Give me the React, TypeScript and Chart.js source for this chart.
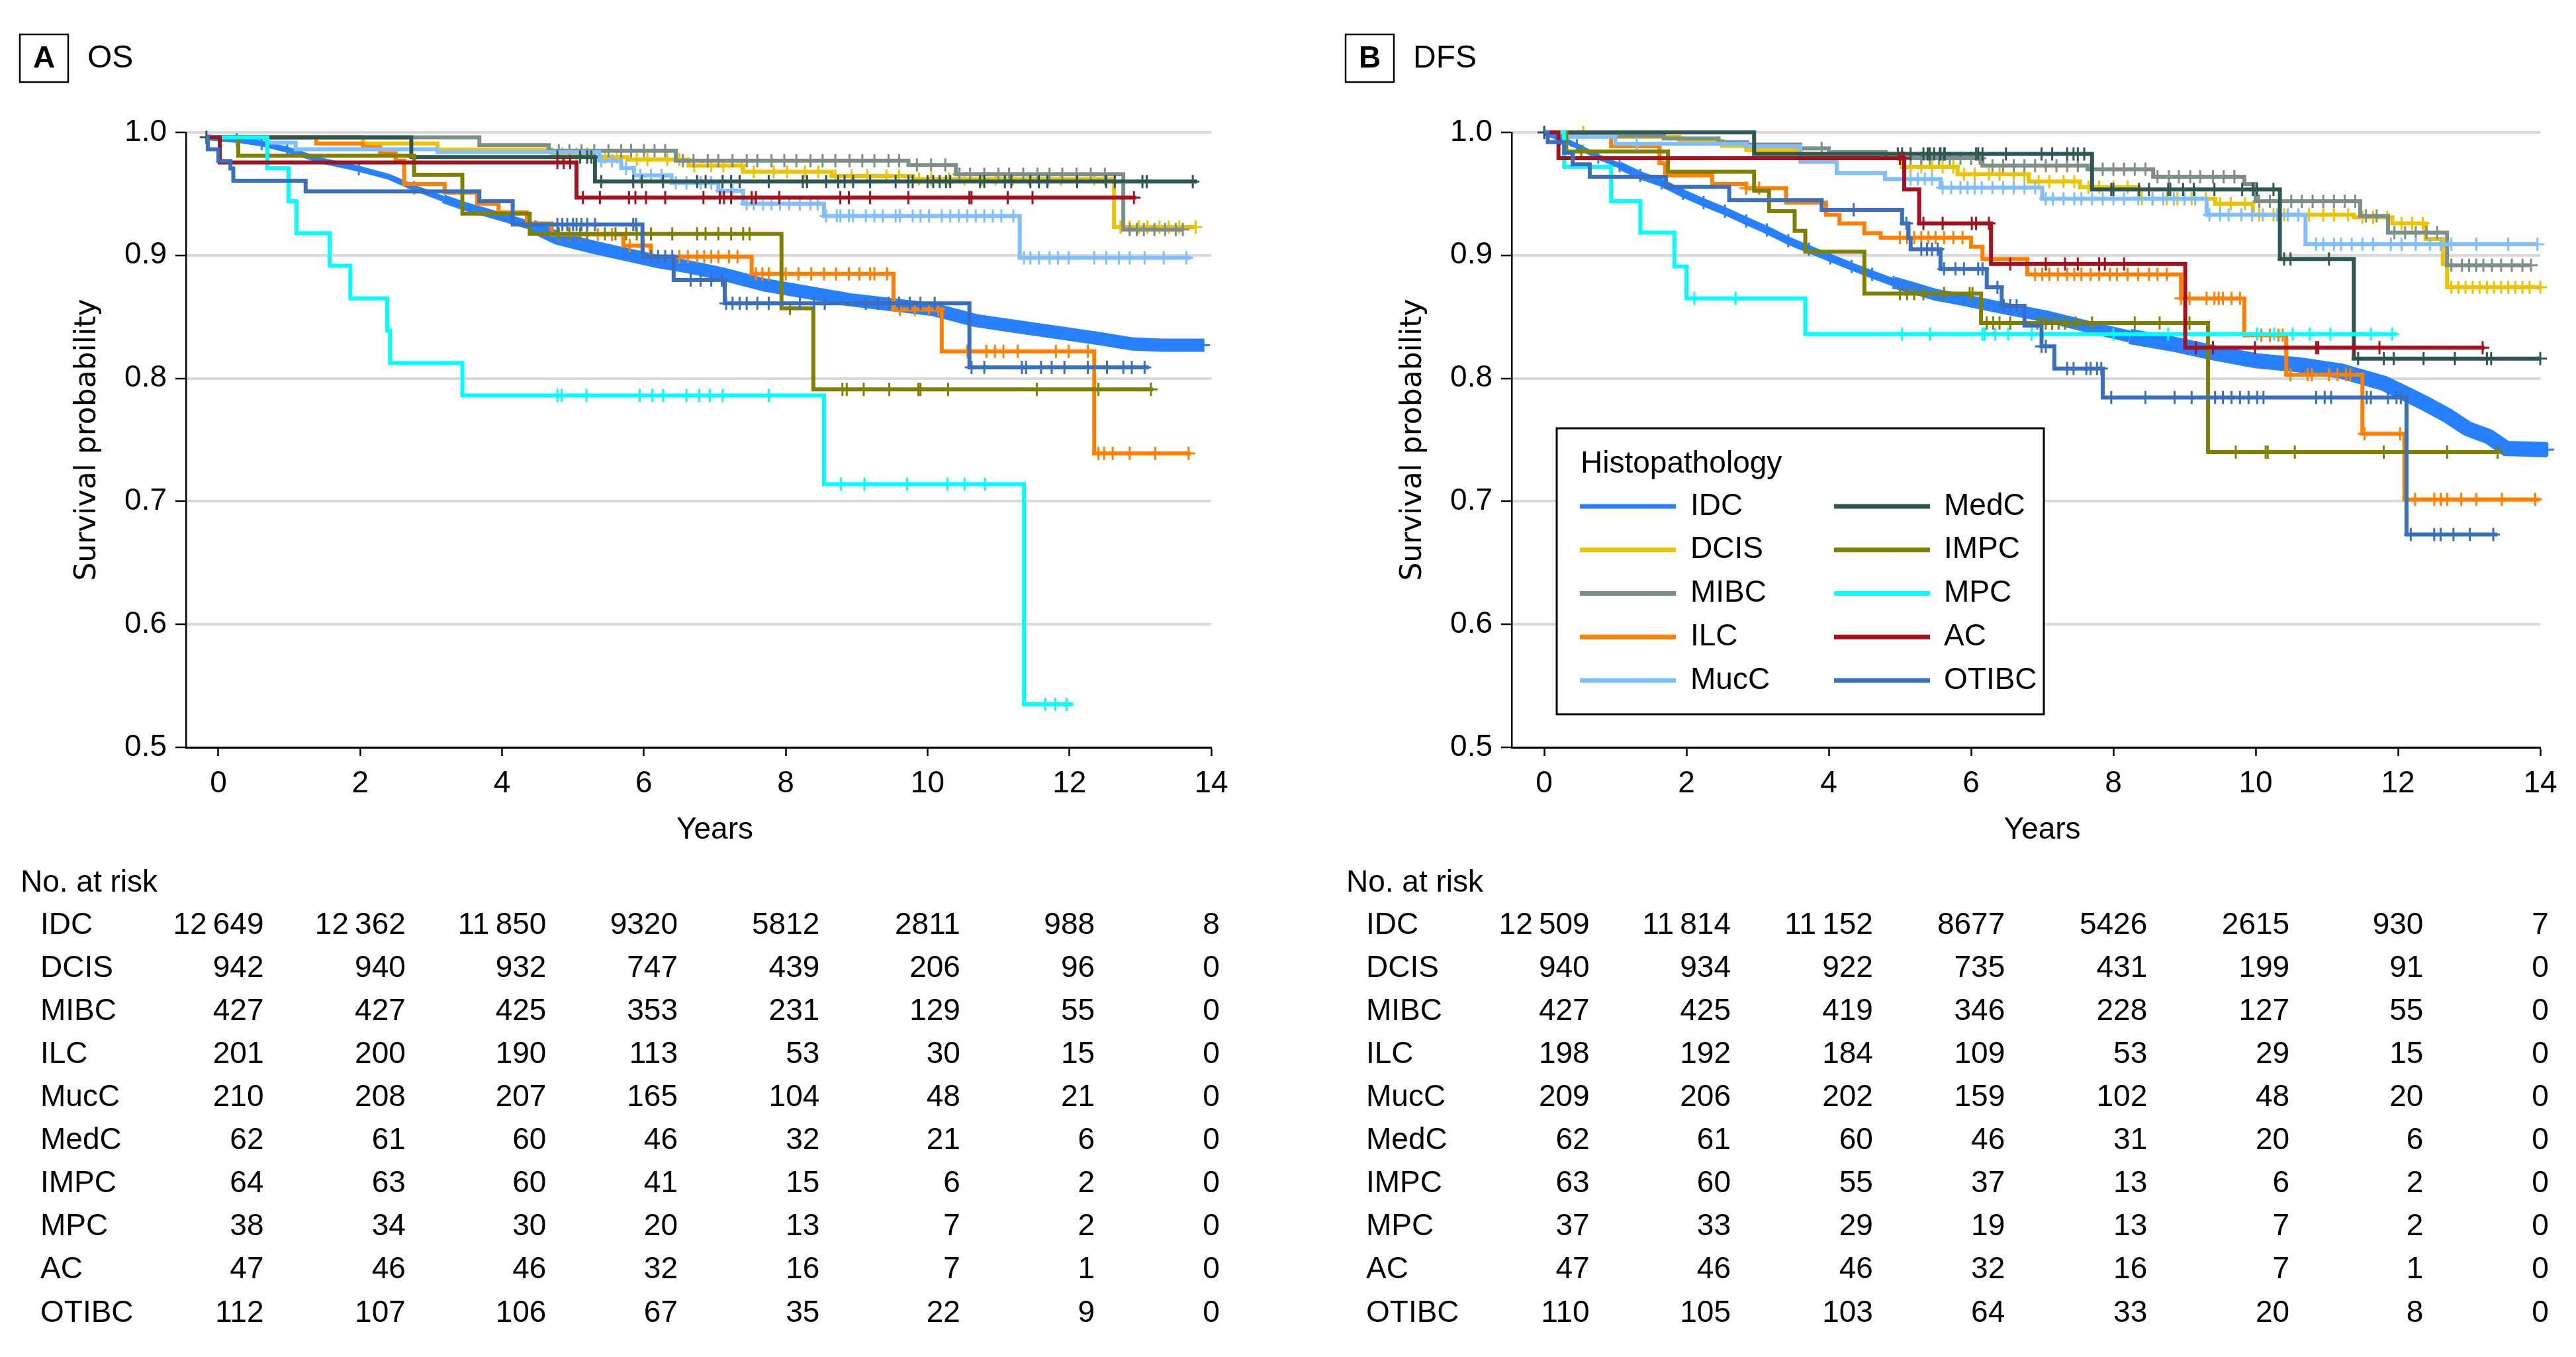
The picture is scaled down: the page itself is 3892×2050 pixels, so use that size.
import React, { useEffect, useRef } from 'react';
import { Chart, registerables } from 'chart.js';

Chart.register(...registerables);

// ---------------- data ----------------
const GROUPS = ['IDC', 'DCIS', 'MIBC', 'ILC', 'MucC', 'MedC', 'IMPC', 'MPC', 'AC', 'OTIBC'];
const COLORS = ['#2680ff', '#ecc300', '#7d8f89', '#ff8000', '#80bfff', '#2e5652', '#808000', '#00ffff', '#a3121f', '#3a6ebf'];
const X_TICKS = [0, 2, 4, 6, 8, 10, 12, 14];
const Y_TICKS = [0.5, 0.6, 0.7, 0.8, 0.9, 1.0];

// Panel A: overall survival, [years, survival probability]
const OS_IDC = [[-0.17, 0.996], [0.26, 0.994], [0.61, 0.991], [0.97, 0.986], [1.45, 0.977], [1.98, 0.9705], [2.4, 0.964], [2.76, 0.955], [3.17, 0.946], [3.47, 0.94], [3.77, 0.935], [4.07, 0.93], [4.42, 0.924], [4.78, 0.914], [5.26, 0.907], [5.73, 0.901], [6.2, 0.895], [6.6, 0.891], [7.1, 0.885], [7.7, 0.876], [8.3, 0.87], [8.89, 0.864], [9.49, 0.86], [10.08, 0.856], [10.68, 0.847], [11.27, 0.842], [11.87, 0.837], [12.46, 0.832], [12.88, 0.828], [13.3, 0.827], [13.89, 0.827]];
const OS_DCIS = [[-0.17, 0.996], [2.04, 0.991], [3.09, 0.986], [4.7, 0.9825], [5.3, 0.98], [5.77, 0.978], [6.63, 0.973], [7.4, 0.968], [8.65, 0.9645], [9.8, 0.962], [12.63, 0.923], [13.78, 0.923]];
const OS_MIBC = [[-0.17, 0.996], [3.68, 0.9897], [4.66, 0.985], [6.45, 0.977], [9.73, 0.9735], [10.4, 0.966], [12.76, 0.921], [13.6, 0.921]];
const OS_ILC = [[-0.17, 0.996], [1.38, 0.991], [2.04, 0.988], [2.28, 0.983], [2.5, 0.977], [2.62, 0.958], [3.19, 0.951], [3.65, 0.942], [3.95, 0.935], [4.35, 0.926], [4.7, 0.917], [5.71, 0.908], [6.1, 0.899], [7.52, 0.885], [9.52, 0.856], [10.2, 0.822], [12.35, 0.739], [13.71, 0.739]];
const OS_MUCC = [[-0.17, 0.996], [0.69, 0.9916], [1.09, 0.9863], [3.09, 0.984], [5.37, 0.977], [5.68, 0.971], [5.86, 0.965], [6.39, 0.959], [7.05, 0.9525], [7.4, 0.942], [8.54, 0.932], [11.3, 0.898], [13.71, 0.898]];
const OS_MEDC = [[-0.17, 0.996], [2.72, 0.98], [5.31, 0.96], [13.8, 0.96]];
const OS_IMPC = [[-0.17, 0.996], [0.28, 0.981], [2.76, 0.9655], [3.44, 0.934], [4.39, 0.9175], [7.94, 0.857], [8.39, 0.791], [13.18, 0.791]];
const OS_MPC = [[-0.17, 0.996], [0.69, 0.971], [0.99, 0.944], [1.1, 0.918], [1.57, 0.8915], [1.86, 0.865], [2.38, 0.839], [2.42, 0.8124], [3.44, 0.786], [8.54, 0.714], [11.36, 0.535], [12.05, 0.535]];
const OS_AC = [[-0.17, 0.996], [0.02, 0.9755], [5.05, 0.947], [12.94, 0.947]];
const OS_OTIBC = [[-0.17, 0.996], [-0.15, 0.9863], [0.0, 0.9767], [0.17, 0.9707], [0.21, 0.9607], [1.23, 0.952], [3.68, 0.944], [4.15, 0.925], [5.98, 0.899], [6.42, 0.88], [7.14, 0.861], [10.59, 0.809], [13.12, 0.809]];

// Panel A censoring times (years)
const OS_IDC_C = [0.26, 0.61, 0.97, 1.98, 2.76, 13.89];
const OS_DCIS_C = [4.85, 5.05, 5.2, 5.45, 5.62, 5.9, 6.05, 6.33, 6.5, 6.71, 6.95, 7.12, 7.38, 7.55, 7.83, 8.02, 8.27, 8.46, 8.7, 8.93, 9.15, 9.42, 9.6, 9.88, 10.05, 10.3, 10.52, 10.77, 10.96, 11.2, 11.43, 11.7, 11.88, 12.1, 12.35, 12.5, 12.72, 12.85, 12.98, 13.1, 13.27, 13.4, 13.55, 13.78];
const OS_MIBC_C = [4.8, 4.95, 5.12, 5.3, 5.5, 5.68, 5.82, 6.0, 6.15, 6.3, 6.55, 6.7, 6.9, 7.05, 7.25, 7.45, 7.6, 7.8, 7.98, 8.15, 8.35, 8.52, 8.7, 8.9, 9.08, 9.25, 9.45, 9.6, 9.85, 10.05, 10.25, 10.45, 10.6, 10.8, 11.0, 11.15, 11.35, 11.55, 11.72, 11.9, 12.1, 12.3, 12.5, 12.85, 12.95, 13.05, 13.2, 13.35, 13.5, 13.6];
const OS_ILC_C = [4.8, 4.95, 5.1, 5.35, 5.55, 5.8, 6.0, 6.5, 6.62, 6.75, 6.85, 6.95, 7.05, 7.2, 7.32, 7.58, 7.67, 7.76, 8.0, 8.18, 8.36, 8.54, 8.71, 8.89, 9.04, 9.19, 9.25, 9.43, 9.61, 9.82, 10.02, 10.15, 10.56, 10.83, 10.95, 11.07, 11.27, 11.81, 11.99, 12.26, 12.41, 12.49, 12.61, 12.85, 13.21, 13.68];
const OS_MUCC_C = [5.4, 5.55, 5.75, 5.95, 6.1, 6.25, 6.45, 6.6, 6.8, 6.95, 7.1, 7.25, 7.45, 7.55, 7.68, 7.8, 7.92, 8.05, 8.2, 8.35, 8.45, 8.57, 8.72, 8.77, 8.89, 8.95, 9.13, 9.25, 9.37, 9.55, 9.61, 9.79, 9.9, 10.02, 10.2, 10.32, 10.44, 10.56, 10.68, 10.8, 10.92, 11.04, 11.21, 11.36, 11.45, 11.57, 11.72, 11.84, 11.99, 12.35, 12.52, 12.7, 12.85, 13.06, 13.33, 13.65];
const OS_MEDC_C = [-0.17, 4.78, 5.1, 5.2, 5.26, 5.4, 5.85, 5.97, 6.27, 6.75, 6.87, 7.11, 7.23, 7.35, 7.76, 8.24, 8.3, 8.57, 8.74, 8.83, 8.95, 9.19, 9.55, 9.73, 9.79, 10.0, 10.08, 10.17, 10.26, 10.32, 10.74, 10.8, 11.09, 11.18, 11.45, 11.57, 11.69, 12.11, 12.52, 12.64, 13.03, 13.09, 13.74];
const OS_IMPC_C = [4.8, 4.95, 5.1, 5.2, 5.45, 5.6, 5.75, 5.9, 6.1, 6.4, 6.75, 6.87, 7.05, 7.23, 7.4, 7.49, 8.06, 8.8, 8.86, 9.1, 9.46, 9.87, 9.9, 10.29, 11.54, 12.41, 13.15];
const OS_MPC_C = [4.78, 4.84, 5.19, 5.94, 6.12, 6.27, 6.6, 6.78, 6.93, 7.11, 7.76, 8.78, 9.11, 9.71, 10.28, 10.52, 10.81, 11.66, 11.8, 11.96];
const OS_AC_C = [4.78, 4.87, 4.96, 5.14, 5.38, 5.79, 5.88, 6.03, 6.3, 6.84, 7.07, 7.13, 7.23, 7.52, 7.58, 7.91, 8.77, 8.89, 9.19, 9.73, 10.59, 10.62, 11.13, 11.48, 12.91];
const OS_OTIBC_C = [4.78, 4.85, 4.92, 5.0, 5.05, 5.12, 5.2, 5.31, 5.85, 5.89, 6.1, 6.2, 6.3, 6.4, 6.66, 6.8, 6.95, 7.1, 7.16, 7.25, 7.35, 7.45, 7.6, 7.76, 8.2, 8.4, 8.55, 9.13, 9.3, 9.45, 9.6, 9.75, 9.9, 10.1, 10.62, 10.8, 11.33, 11.39, 11.6, 11.75, 11.93, 12.26, 12.53, 12.76, 12.88, 13.06];

// Panel B: disease-free survival
const DFS_IDC = [[0, 1.0], [0.23, 0.995], [0.46, 0.989], [0.76, 0.98], [1.06, 0.973], [1.35, 0.965], [1.65, 0.959], [1.95, 0.9505], [2.24, 0.943], [2.54, 0.936], [2.84, 0.928], [3.13, 0.9206], [3.43, 0.912], [3.72, 0.905], [4.02, 0.898], [4.32, 0.891], [4.61, 0.8845], [4.91, 0.878], [5.21, 0.873], [5.5, 0.868], [5.87, 0.864], [6.46, 0.857], [7.05, 0.8505], [7.64, 0.842], [8.23, 0.834], [8.83, 0.828], [9.42, 0.8206], [10.0, 0.8144], [10.61, 0.811], [11.2, 0.806], [11.8, 0.796], [12.09, 0.788], [12.39, 0.7794], [12.69, 0.77], [12.98, 0.759], [13.28, 0.7526], [13.52, 0.743], [14.1, 0.742]];
const DFS_DCIS = [[0, 1.0], [0.9, 0.9963], [1.9, 0.993], [2.5, 0.989], [2.84, 0.9856], [3.6, 0.9825], [5.03, 0.972], [5.81, 0.966], [6.81, 0.96], [7.53, 0.9555], [8.36, 0.946], [9.43, 0.942], [9.96, 0.933], [11.38, 0.931], [11.92, 0.926], [12.39, 0.9134], [12.63, 0.893], [12.69, 0.874], [14.02, 0.874]];
const DFS_MIBC = [[0, 1.0], [0.25, 0.997], [1.68, 0.995], [2.45, 0.992], [2.85, 0.99], [3.6, 0.987], [4.0, 0.984], [4.8, 0.979], [6.16, 0.973], [7.64, 0.97], [8.56, 0.964], [9.84, 0.958], [10.0, 0.944], [11.47, 0.932], [11.86, 0.9185], [12.69, 0.892], [13.87, 0.892]];
const DFS_ILC = [[0, 1.0], [0.94, 0.9887], [1.62, 0.975], [1.7, 0.965], [2.36, 0.958], [2.84, 0.9546], [3.4, 0.943], [3.96, 0.933], [4.15, 0.926], [4.5, 0.918], [4.73, 0.9144], [6.0, 0.907], [6.16, 0.897], [6.79, 0.8845], [8.95, 0.865], [9.84, 0.835], [10.43, 0.803], [11.5, 0.755], [12.09, 0.7016], [13.99, 0.7016]];
const DFS_MUCC = [[0, 1.0], [0.28, 0.9963], [1.0, 0.9907], [2.84, 0.9887], [3.6, 0.976], [4.11, 0.967], [4.79, 0.962], [5.57, 0.955], [7.0, 0.946], [9.31, 0.933], [10.7, 0.909], [13.96, 0.909]];
const DFS_MEDC = [[0, 1.0], [2.95, 0.9825], [7.7, 0.9536], [10.34, 0.897], [11.38, 0.816], [13.99, 0.816]];
const DFS_IMPC = [[0, 1.0], [0.31, 0.9845], [1.74, 0.968], [2.95, 0.9526], [3.16, 0.936], [3.52, 0.92], [3.67, 0.903], [4.5, 0.869], [6.14, 0.845], [9.33, 0.74], [13.43, 0.74]];
const DFS_MPC = [[0, 1.0], [0.28, 0.972], [0.94, 0.944], [1.35, 0.9185], [1.83, 0.891], [2.0, 0.865], [3.67, 0.836], [11.98, 0.836]];
const DFS_AC = [[0, 1.0], [0.2, 0.979], [5.06, 0.9536], [5.27, 0.926], [6.28, 0.893], [9.01, 0.825], [13.22, 0.825]];
const DFS_OTIBC = [[0, 1.0], [0.05, 0.992], [0.28, 0.9835], [0.4, 0.974], [0.64, 0.964], [1.71, 0.9557], [2.6, 0.945], [3.9, 0.937], [5.03, 0.926], [5.12, 0.914], [5.15, 0.905], [5.57, 0.889], [6.22, 0.874], [6.43, 0.859], [6.75, 0.843], [6.99, 0.826], [7.17, 0.808], [7.85, 0.7845], [12.12, 0.673], [13.4, 0.673]];

// Panel B censoring times (years)
const DFS_IDC_C = [0.23, 0.46, 0.76, 1.06, 1.35, 1.65, 1.95, 2.24, 2.54, 2.84, 3.13, 3.43, 3.72, 4.02, 4.32, 4.61, 4.91, 14.1];
const DFS_DCIS_C = [0.55, 3.55, 5.15, 5.3, 5.45, 5.6, 5.75, 5.9, 6.05, 6.25, 6.4, 6.6, 6.75, 6.95, 7.1, 7.3, 7.45, 7.65, 7.8, 8.0, 8.2, 8.4, 8.55, 8.75, 8.9, 9.1, 9.3, 9.5, 9.65, 9.85, 10.05, 10.25, 10.4, 10.6, 10.75, 10.95, 11.1, 11.3, 11.5, 11.65, 11.85, 12.05, 12.2, 12.35, 12.75, 12.85, 12.95, 13.05, 13.15, 13.25, 13.35, 13.45, 13.55, 13.65, 13.75, 13.85, 14.0];
const DFS_MIBC_C = [3.9, 5.0, 5.15, 5.3, 5.42, 5.55, 5.7, 5.85, 6.0, 6.12, 6.3, 6.45, 6.6, 6.75, 6.9, 7.05, 7.2, 7.35, 7.5, 7.7, 7.85, 8.0, 8.15, 8.3, 8.45, 8.62, 8.78, 8.92, 9.08, 9.22, 9.4, 9.55, 9.7, 10.05, 10.2, 10.35, 10.5, 10.65, 10.8, 10.95, 11.1, 11.25, 11.4, 11.55, 11.7, 11.95, 12.1, 12.25, 12.4, 12.55, 12.75, 12.9, 13.0, 13.1, 13.2, 13.32, 13.45, 13.6, 13.75, 13.87];
const DFS_ILC_C = [2.84, 3.02, 5.0, 5.1, 5.2, 5.3, 5.4, 5.5, 5.62, 5.75, 5.88, 6.9, 7.0, 7.1, 7.22, 7.35, 7.45, 7.55, 7.68, 7.8, 7.95, 8.05, 8.2, 8.35, 8.5, 8.62, 8.75, 8.95, 9.07, 9.31, 9.42, 9.48, 9.54, 9.66, 9.78, 10.08, 10.2, 10.32, 10.38, 10.49, 10.73, 10.79, 11.03, 11.15, 11.27, 11.33, 11.53, 12.03, 12.24, 12.51, 12.6, 12.69, 12.89, 13.1, 13.46, 13.93];
const DFS_MUCC_C = [1.3, 5.05, 5.15, 5.25, 5.35, 5.45, 5.6, 5.72, 5.85, 5.95, 6.05, 6.15, 6.3, 6.45, 6.6, 6.75, 6.9, 7.05, 7.15, 7.3, 7.45, 7.55, 7.7, 7.85, 8.0, 8.15, 8.35, 8.55, 8.7, 8.85, 9.0, 9.15, 9.35, 9.5, 9.62, 9.8, 9.95, 10.1, 10.3, 10.45, 10.6, 10.85, 10.95, 11.1, 11.2, 11.35, 11.5, 11.65, 11.9, 12.05, 12.25, 12.45, 12.6, 12.75, 13.1, 13.55, 13.96];
const DFS_MEDC_C = [0, 4.97, 5.03, 5.15, 5.33, 5.39, 5.42, 5.48, 5.56, 5.57, 5.62, 5.63, 6.07, 6.1, 6.16, 6.49, 6.99, 7.14, 7.35, 7.44, 7.5, 7.59, 7.97, 8.0, 8.36, 8.5, 8.77, 8.8, 8.98, 9.13, 9.42, 9.81, 9.96, 10.02, 10.25, 10.4, 10.49, 11.03, 11.44, 11.8, 11.94, 12.36, 12.8, 13.25, 13.31, 14.0];
const DFS_IMPC_C = [0.52, 5.0, 5.1, 5.2, 5.33, 5.62, 5.98, 6.02, 6.22, 6.31, 6.4, 6.55, 6.93, 6.99, 7.05, 7.14, 7.23, 7.32, 7.47, 7.7, 8.3, 8.65, 9.07, 9.72, 10.14, 10.17, 10.55, 11.8, 12.69, 13.4];
const DFS_MPC_C = [2.11, 2.69, 5.03, 5.42, 6.16, 6.19, 6.34, 6.52, 6.85, 6.99, 8.0, 8.77, 9.01, 10.02, 10.26, 10.52, 10.76, 11.05, 11.62, 11.92];
const DFS_AC_C = [5.0, 5.05, 5.33, 5.6, 6.01, 6.07, 6.25, 6.55, 7.05, 7.32, 7.5, 7.8, 7.88, 8.15, 9.16, 9.4, 9.99, 10.85, 10.88, 11.38, 11.74, 13.19];
const DFS_OTIBC_C = [4.35, 5.09, 5.3, 5.38, 5.45, 5.53, 5.62, 5.78, 5.9, 6.1, 6.16, 6.37, 6.46, 6.55, 6.64, 6.99, 7.05, 7.35, 7.44, 7.62, 7.68, 7.77, 7.83, 7.97, 8.45, 8.86, 9.1, 9.43, 9.54, 9.66, 9.78, 9.9, 10.02, 10.11, 10.85, 10.97, 11.06, 11.56, 11.62, 11.86, 11.98, 12.04, 12.18, 12.51, 12.6, 12.78, 13.01, 13.34];

// Numbers at risk at 0, 2, 4, ... 14 years (rows in GROUPS order)
const OS_AT_RISK = [
  [12649, 12362, 11850, 9320, 5812, 2811, 988, 8],
  [942, 940, 932, 747, 439, 206, 96, 0],
  [427, 427, 425, 353, 231, 129, 55, 0],
  [201, 200, 190, 113, 53, 30, 15, 0],
  [210, 208, 207, 165, 104, 48, 21, 0],
  [62, 61, 60, 46, 32, 21, 6, 0],
  [64, 63, 60, 41, 15, 6, 2, 0],
  [38, 34, 30, 20, 13, 7, 2, 0],
  [47, 46, 46, 32, 16, 7, 1, 0],
  [112, 107, 106, 67, 35, 22, 9, 0],
];
const DFS_AT_RISK = [
  [12509, 11814, 11152, 8677, 5426, 2615, 930, 7],
  [940, 934, 922, 735, 431, 199, 91, 0],
  [427, 425, 419, 346, 228, 127, 55, 0],
  [198, 192, 184, 109, 53, 29, 15, 0],
  [209, 206, 202, 159, 102, 48, 20, 0],
  [62, 61, 60, 46, 31, 20, 6, 0],
  [63, 60, 55, 37, 13, 6, 2, 0],
  [37, 33, 29, 19, 13, 7, 2, 0],
  [47, 46, 46, 32, 16, 7, 1, 0],
  [110, 105, 103, 64, 33, 20, 8, 0],
];

const OS_CURVES = [OS_IDC, OS_DCIS, OS_MIBC, OS_ILC, OS_MUCC, OS_MEDC, OS_IMPC, OS_MPC, OS_AC, OS_OTIBC];
const OS_CENSORED = [OS_IDC_C, OS_DCIS_C, OS_MIBC_C, OS_ILC_C, OS_MUCC_C, OS_MEDC_C, OS_IMPC_C, OS_MPC_C, OS_AC_C, OS_OTIBC_C];
const DFS_CURVES = [DFS_IDC, DFS_DCIS, DFS_MIBC, DFS_ILC, DFS_MUCC, DFS_MEDC, DFS_IMPC, DFS_MPC, DFS_AC, DFS_OTIBC];
const DFS_CENSORED = [DFS_IDC_C, DFS_DCIS_C, DFS_MIBC_C, DFS_ILC_C, DFS_MUCC_C, DFS_MEDC_C, DFS_IMPC_C, DFS_MPC_C, DFS_AC_C, DFS_OTIBC_C];

// ---------------- layout / style ----------------
const H = 2050;
const PLOT_TOP = 200;
const PLOT_BOTTOM = 1129;
const Y_AXIS_W = 281;
const X_AXIS_H = 120;
const FONT = '"Liberation Sans", Arial, sans-serif';
const TXT = 46;
const LINE_W = 6;

function survAt(curve: number[][], t: number) {
  let s = curve[0][1];
  for (const [x, y] of curve) {
    if (x <= t) s = y;
    else break;
  }
  return s;
}

function fmt(n: number) {
  if (n >= 10000) {
    const s = String(n);
    return s.slice(0, s.length - 3) + '\u2009' + s.slice(s.length - 3);
  }
  return String(n);
}

function osBand(t: number) {
  if (t < 3) return 9;
  if (t < 4.5) return 13;
  return 20;
}
function dfsBand(t: number) {
  if (t < 1.2) return 8;
  if (t < 5) return 12;
  if (t < 8) return 18;
  return 23;
}

const PANELS = {
  A: { letter: 'A', title: 'OS', width: 1950, plotRight: 1830, left: 0, curves: OS_CURVES, censored: OS_CENSORED, risk: OS_AT_RISK, band: osBand, legend: false },
  B: { letter: 'B', title: 'DFS', width: 1889, plotRight: 1835, left: 2003, curves: DFS_CURVES, censored: DFS_CENSORED, risk: DFS_AT_RISK, band: dfsBand, legend: true },
};

function makeExtras(p: any) {
  return {
    id: 'extras' + p.letter,
    afterDraw(chart: any) {
      const ctx = chart.ctx;
      const xs = chart.scales.x;
      ctx.save();
      ctx.fillStyle = '#000';
      ctx.strokeStyle = '#000';
      // panel label
      ctx.lineWidth = 2.5;
      ctx.strokeRect(30, 52, 73, 72);
      ctx.font = `bold ${TXT}px ${FONT}`;
      ctx.textAlign = 'center';
      ctx.textBaseline = 'middle';
      ctx.fillText(p.letter, 66.5, 89);
      ctx.font = `48px ${FONT}`;
      ctx.textAlign = 'left';
      ctx.fillText(p.title, 132, 89);
      // x axis title, centred on the 0-14 year range
      ctx.font = `${TXT}px ${FONT}`;
      ctx.textAlign = 'center';
      ctx.textBaseline = 'alphabetic';
      ctx.fillText('Years', xs.getPixelForValue(7), 1267);
      // number at risk table
      ctx.textBaseline = 'middle';
      ctx.textAlign = 'left';
      ctx.fillText('No. at risk', 31, 1334);
      const colW = X_TICKS.map((_, c) => Math.max(...p.risk.map((row: number[]) => ctx.measureText(fmt(row[c])).width)));
      p.risk.forEach((row: number[], r: number) => {
        const y = 1398 + r * 65.1;
        ctx.textAlign = 'left';
        ctx.fillText(GROUPS[r], 61, y);
        ctx.textAlign = 'right';
        row.forEach((n, c) => {
          ctx.fillText(fmt(n), xs.getPixelForValue(X_TICKS[c]) + colW[c] / 2, y);
        });
      });
      // legend
      if (p.legend) {
        const bx = 349, by = 647, bw = 736, bh = 432;
        ctx.fillStyle = '#fff';
        ctx.fillRect(bx, by, bw, bh);
        ctx.lineWidth = 3;
        ctx.strokeRect(bx, by, bw, bh);
        ctx.fillStyle = '#000';
        ctx.textAlign = 'left';
        ctx.fillText('Histopathology', 385, 701);
        GROUPS.forEach((g, i) => {
          const col = i < 5 ? 0 : 1;
          const row = i % 5;
          const y = 765 + row * 65.75;
          const lx = col === 0 ? 384 : 768;
          ctx.strokeStyle = COLORS[i];
          ctx.lineWidth = 7;
          ctx.beginPath();
          ctx.moveTo(lx, y);
          ctx.lineTo(lx + 145, y);
          ctx.stroke();
          ctx.fillStyle = '#000';
          ctx.fillText(g, col === 0 ? 551 : 934, y);
        });
      }
      ctx.restore();
    },
  };
}

function buildConfig(p: any) {
  const datasets: any[] = [];
  p.curves.forEach((curve: number[][], i: number) => {
    const color = COLORS[i];
    const isIDC = i === 0;
    const line: any = {
      type: 'line',
      label: GROUPS[i],
      data: curve.map(([x, y]) => ({ x, y })),
      borderColor: color,
      backgroundColor: color,
      borderWidth: isIDC ? p.band(0) : LINE_W,
      stepped: isIDC ? false : 'before',
      pointRadius: 0,
      pointHoverRadius: 0,
      fill: false,
      clip: false,
      borderJoinStyle: 'miter',
      borderCapStyle: 'butt',
      order: 100 - 2 * i,
    };
    if (isIDC) {
      line.segment = { borderWidth: (c: any) => p.band((c.p0.parsed.x + c.p1.parsed.x) / 2) };
    }
    datasets.push(line);
    datasets.push({
      type: 'line',
      label: GROUPS[i] + ' censored',
      data: p.censored[i].map((t: number) => ({ x: t, y: survAt(curve, t) })),
      showLine: false,
      pointStyle: 'cross',
      pointRadius: 10,
      pointHoverRadius: 10,
      pointBorderWidth: 3,
      pointBorderColor: color,
      pointBackgroundColor: color,
      clip: false,
      order: 100 - 2 * i - 1,
    });
  });

  return {
    type: 'line',
    data: { datasets },
    options: {
      responsive: false,
      animation: false,
      devicePixelRatio: 1,
      events: [],
      layout: { padding: { left: 0, top: PLOT_TOP, right: p.width - p.plotRight, bottom: H - PLOT_BOTTOM - X_AXIS_H } },
      plugins: { legend: { display: false }, tooltip: { enabled: false }, title: { display: false } },
      scales: {
        x: {
          type: 'linear',
          min: -0.457,
          max: 14,
          afterBuildTicks: (s: any) => { s.ticks = X_TICKS.map((v) => ({ value: v })); },
          afterFit: (s: any) => { s.height = X_AXIS_H; },
          grid: { drawOnChartArea: false, drawTicks: true, tickLength: 13, tickColor: '#000', tickWidth: 2.5 },
          border: { display: true, color: '#000', width: 3 },
          ticks: { padding: 15, color: '#000', font: { family: FONT, size: TXT }, maxRotation: 0, autoSkip: false, callback: (v: any) => String(v) },
        },
        y: {
          type: 'linear',
          min: 0.5,
          max: 1.0,
          afterBuildTicks: (s: any) => { s.ticks = Y_TICKS.map((v) => ({ value: v })); },
          afterFit: (s: any) => { s.width = Y_AXIS_W; },
          grid: { color: '#d9d9d9', lineWidth: 4, drawTicks: true, tickLength: 16, tickColor: '#000', tickWidth: 2.5 },
          border: { display: true, color: '#000', width: 2.5 },
          ticks: { padding: 13, color: '#000', font: { family: FONT, size: TXT }, autoSkip: false, callback: (v: any) => Number(v).toFixed(1) },
          title: { display: true, text: 'Survival probability', color: '#000', font: { family: '"DejaVu Sans", sans-serif', size: 44 }, padding: { top: 106, bottom: 0 } },
        },
      },
    },
    plugins: [makeExtras(p)],
  };
}

function Panel({ p }: { p: any }) {
  const ref = useRef<HTMLCanvasElement | null>(null);
  useEffect(() => {
    if (!ref.current) return;
    const chart = new Chart(ref.current, buildConfig(p) as any);
    return () => chart.destroy();
  }, [p]);
  return (
    <canvas
      ref={ref}
      width={p.width}
      height={H}
      style={{ position: 'absolute', left: p.left, top: 0, width: p.width, height: H }}
    />
  );
}

export default function App() {
  return (
    <div style={{ position: 'absolute', left: 0, top: 0, width: 3892, height: H, background: '#fff', overflow: 'hidden' }}>
      <Panel p={PANELS.A} />
      <Panel p={PANELS.B} />
    </div>
  );
}
